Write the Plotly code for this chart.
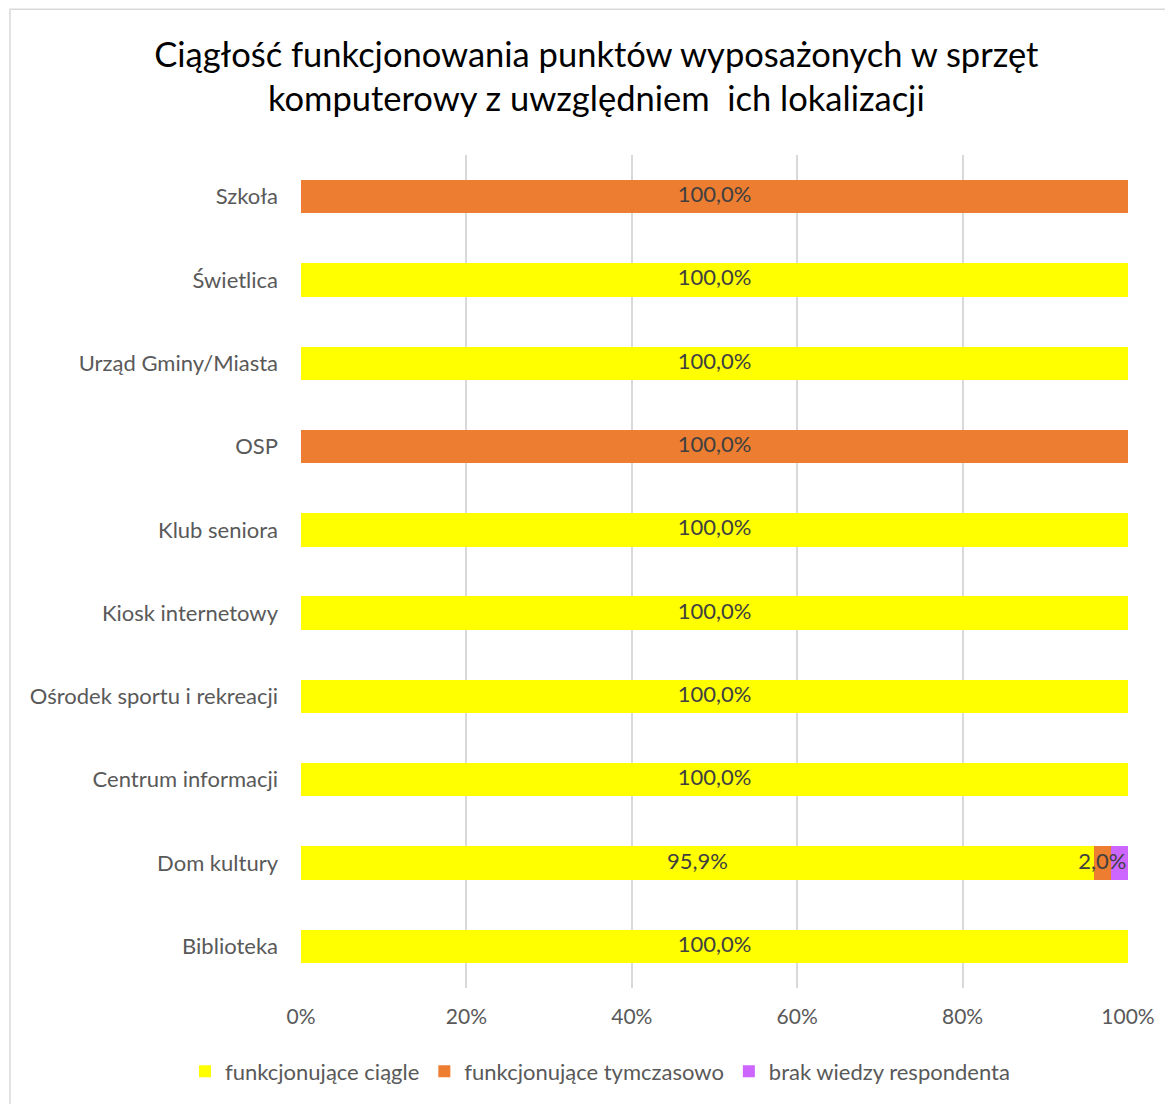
import plotly.graph_objects as go

categories = ["Szkoła", "Świetlica", "Urząd Gminy/Miasta", "OSP", "Klub seniora",
              "Kiosk internetowy", "Ośrodek sportu i rekreacji", "Centrum informacji",
              "Dom kultury", "Biblioteka"]
ciagle = [0, 100.0, 100.0, 0, 100.0, 100.0, 100.0, 100.0, 95.9, 100.0]
tymczasowo = [100.0, 0, 0, 100.0, 0, 0, 0, 0, 2.0, 0]
brak = [0, 0, 0, 0, 0, 0, 0, 0, 2.1, 0]
series_names = ["funkcjonujące ciągle", "funkcjonujące tymczasowo", "brak wiedzy respondenta"]
colors = ["#FFFF00", "#ED7D31", "#CC66FF"]
show_labels = [True, True, False]
tick_vals = [0, 20, 40, 60, 80, 100]
tick_text = ["0%", "20%", "40%", "60%", "80%", "100%"]

FONT = "Lato"
fig = go.Figure()
series = [ciagle, tymczasowo, brak]
for name, vals, col in zip(series_names, series, colors):
    fig.add_trace(go.Bar(y=categories, x=vals, name=name, orientation="h",
                         marker=dict(color=col, line=dict(width=0)), width=0.4))

# data labels centred on segments
lx, ly, lt = [], [], []
cum = [0.0] * len(categories)
for vals, show in zip(series, show_labels):
    for i, v in enumerate(vals):
        if v > 0 and show:
            lx.append(cum[i] + v / 2)
            ly.append(categories[i])
            lt.append(f"{v:.1f}%".replace(".", ","))
        cum[i] += v
fig.add_trace(go.Scatter(x=lx, y=ly, text=lt, mode="text", showlegend=False,
                         textfont=dict(family=FONT, size=22, color="#404040"),
                         textposition="middle center", cliponaxis=False, hoverinfo="skip"))

PW, PH = 827, 835
fig.update_layout(
    barmode="stack",
    width=1165, height=1096,
    paper_bgcolor="white", plot_bgcolor="white",
    margin=dict(l=293, r=45, t=147, b=114),
    title=dict(text="Ciągłość funkcjonowania punktów wyposażonych w sprzęt<br>komputerowy z uwzględniem  ich lokalizacji",
               x=0.505, xanchor="center", y=0.9465, yanchor="middle",
               font=dict(family=FONT, size=34.5, color="#000000")),
    font=dict(family=FONT, size=22, color="#595959"),
    legend=dict(orientation="h", x=(600 - 301) / PW, xanchor="center", y=-0.075, yanchor="top",
                font=dict(family=FONT, size=22, color="#595959"), traceorder="normal",
                itemwidth=30),
    xaxis=dict(range=[0, 100], tickvals=tick_vals, ticktext=tick_text,
               showgrid=True, gridcolor="#D9D9D9", gridwidth=1.5, zeroline=False,
               showline=False, ticks="", ticklabelstandoff=14,
               tickfont=dict(size=21, color="#595959")),
    yaxis=dict(autorange="reversed", showgrid=False, ticks="", showline=False,
               ticklabelstandoff=22, tickfont=dict(size=22, color="#595959")),
    shapes=[dict(type="rect", xref="paper", yref="paper",
                 x0=-291 / PW, x1=1.2, y0=-1.0, y1=1 + 146 / PH,
                 line=dict(color="#D9D9D9", width=1.5), fillcolor="rgba(0,0,0,0)", layer="below")],
)

fig.write_html("out.html")
